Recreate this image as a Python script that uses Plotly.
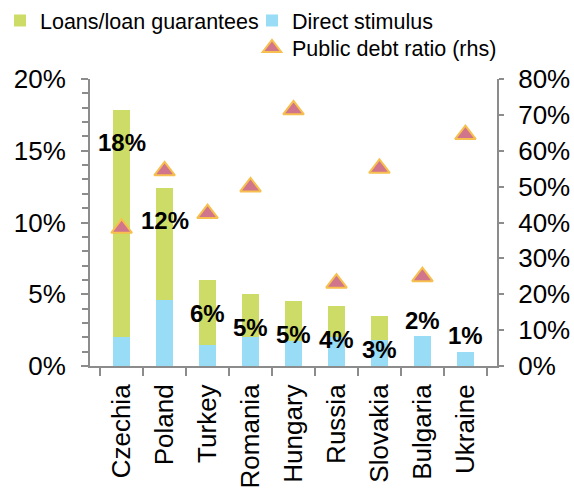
import plotly.graph_objects as go

countries = ["Czechia", "Poland", "Turkey", "Romania", "Hungary", "Russia", "Slovakia", "Bulgaria", "Ukraine"]
direct_stimulus = [2.0, 4.6, 1.46, 2.0, 1.74, 2.0, 1.8, 2.09, 0.98]
loans = [15.85, 7.83, 4.53, 3.0, 2.78, 2.18, 1.68, 0.0, 0.0]
debt_ratio = [38.4, 54.4, 42.5, 49.9, 71.4, 23.1, 55.1, 24.9, 64.5]

FONT = "Liberation Sans, Arial, sans-serif"
GREEN = "#CDDC66"
BLUE = "#98DCF6"
AXIS = "#8C8C8C"

fig = go.Figure()
fig.add_trace(go.Bar(x=countries, y=direct_stimulus, name="Direct stimulus",
                     marker=dict(color=BLUE, line=dict(width=0)),
                     legend="legend2", showlegend=True))
fig.add_trace(go.Bar(x=countries, y=loans, name="Loans/loan guarantees",
                     marker=dict(color=GREEN, line=dict(width=0)),
                     legend="legend", showlegend=True))
fig.add_trace(go.Scatter(x=countries, y=debt_ratio, name="Public debt ratio (rhs)",
                         mode="markers", yaxis="y2",
                         marker=dict(symbol="triangle-up", size=18, color="#D1758C",
                                     line=dict(color="#F6BF4E", width=2)),
                         legend="legend3", showlegend=True))

totals = [d + l for d, l in zip(direct_stimulus, loans)]
for c, t, l in zip(countries, totals, loans):
    fig.add_annotation(x=c, y=t, xref="x", yref="y", text=f"<b>{int(t + 0.5)}%</b>",
                       showarrow=False, yshift=(-33 if l > 0 else 16),
                       font=dict(family=FONT, size=24, color="black"))

def leg(x, y):
    return dict(orientation="h", xref="container", yref="container",
                x=x, y=y, xanchor="left", yanchor="top",
                font=dict(family=FONT, size=21.5, color="black"),
                bgcolor="rgba(0,0,0,0)")

fig.update_layout(
    width=574, height=490,
    showlegend=True,
    margin=dict(l=90, r=77, t=79, b=124, autoexpand=False),
    paper_bgcolor="white", plot_bgcolor="white",
    barmode="stack", bargap=0.6,
    font=dict(family=FONT, size=26, color="black"),
    legend=leg(-0.0105, 1.0),
    legend2=leg(0.439, 1.0),
    legend3=leg(0.439, 0.944),
    xaxis=dict(showline=True, linecolor=AXIS, linewidth=2, ticks="outside",
               tickson="boundaries", ticklen=8, tickcolor=AXIS, tickwidth=2,
               tickangle=-90, tickfont=dict(size=26), showgrid=False,
               ticklabelstandoff=6),
    yaxis=dict(range=[0, 20], dtick=5, ticksuffix="%", showline=True, linecolor=AXIS,
               linewidth=2, ticks="outside", ticklen=7, tickcolor=AXIS, tickwidth=2,
               showgrid=False, zeroline=False, tickfont=dict(size=26),
               ticklabelstandoff=10,
               minor=dict(dtick=1, ticks="outside", ticklen=6, tickcolor=AXIS, tickwidth=2)),
    yaxis2=dict(range=[0, 80], dtick=10, ticksuffix="%", overlaying="y", side="right",
                showline=True, linecolor=AXIS, linewidth=2, ticks="outside", ticklen=5,
                tickcolor=AXIS, tickwidth=2, showgrid=False, zeroline=False,
                tickfont=dict(size=26), ticklabelstandoff=9),
)

fig.write_html("out.html", config={"displayModeBar": False},
               post_script="document.body.style.margin='0';")
